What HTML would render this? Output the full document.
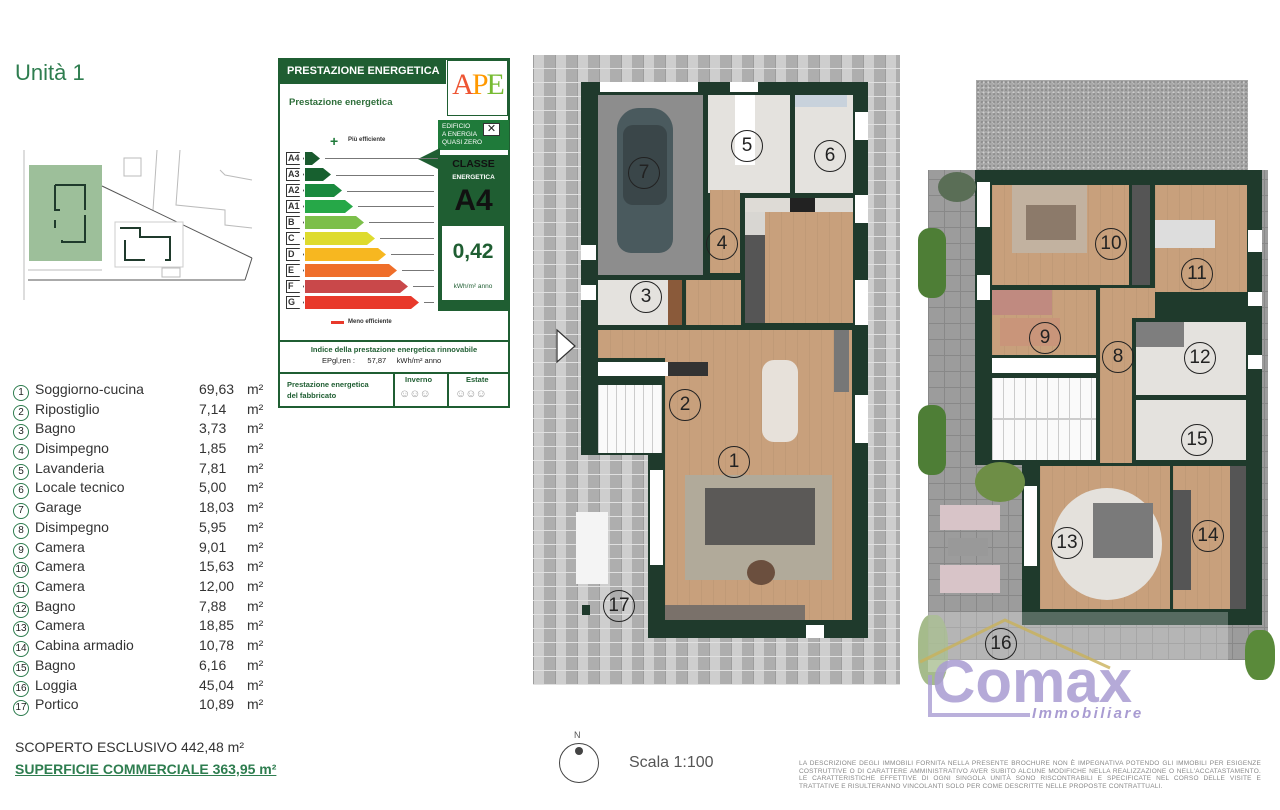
<!DOCTYPE html>
<html><head><meta charset="utf-8"><style>
*{margin:0;padding:0;box-sizing:border-box}
body{width:1280px;height:810px;background:#fff;position:relative;overflow:hidden;font-family:"Liberation Sans",sans-serif;color:#333}
.a{position:absolute}
.pave{background-color:#bdbdbd;background-image:repeating-linear-gradient(0deg,#e0e0e0 0 1px,transparent 1px 14px),repeating-linear-gradient(90deg,#9e9e9e 0 1px,transparent 1px 22px),repeating-linear-gradient(90deg,rgba(255,255,255,.25) 0 11px,rgba(0,0,0,.08) 11px 22px)}
.wall{background:#1f3a2c}
.wood{background:#c8a07c;background-image:repeating-linear-gradient(90deg,rgba(0,0,0,.04) 0 1px,transparent 1px 12px)}
.lt{background:#e4e2de}
.gy{background:#8d8d8d}
.num{position:absolute;width:32px;height:32px;border:1.5px solid #222;border-radius:50%;font-size:19px;text-align:center;line-height:29px;color:#222}
.win{background:#fff}
.li{position:absolute;left:13px;font-size:14px;color:#333;height:20px;line-height:20px}
.li i{display:inline-block;width:16px;height:16px;border:1.5px solid #2e7d4f;border-radius:50%;font-style:normal;font-size:10px;text-align:center;line-height:13px;margin-right:6px;vertical-align:-1px;color:#222}
.li b{font-weight:normal;position:absolute;left:186px;top:0}
.li u{text-decoration:none;position:absolute;left:234px;top:0;white-space:nowrap}
.bar{position:absolute;height:13px;clip-path:polygon(0 0,calc(100% - 8px) 0,100% 50%,calc(100% - 8px) 100%,0 100%)}
.bl{position:absolute;left:286px;width:18px;height:13px;border:1px solid #333;font-size:9px;font-weight:bold;line-height:11px;padding-left:1px;background:#fff;clip-path:polygon(0 0,75% 0,100% 50%,75% 100%,0 100%)}
.ln{position:absolute;height:1px;background:#777}
</style></head><body>

<div class="a" style="left:15px;top:60px;font-size:22px;color:#2e7d4f">Unità 1</div>

<svg class="a" style="left:0;top:140px" width="270" height="170">
<rect x="29" y="25" width="73" height="96" fill="#9dbf9a"/>
<g fill="none" stroke="#bbb" stroke-width="1"><line x1="24" y1="10" x2="24" y2="160"/><line x1="28" y1="130" x2="102" y2="130"/><rect x="124" y="18" width="17" height="18"/><polyline points="157,10 153,70"/><polyline points="180,10 176,65 225,70 225,85 252,88"/><polyline points="220,30 225,35 252,40"/><rect x="162" y="128" width="18" height="9"/></g>
<line x1="102" y1="46" x2="252" y2="118" stroke="#555"/><line x1="252" y1="118" x2="245" y2="140" stroke="#555"/><line x1="28" y1="140" x2="245" y2="140" stroke="#555"/>
<rect x="115" y="82" width="68" height="45" fill="#fff" stroke="#ccc"/>
<g fill="none" stroke="#1f3a2c" stroke-width="2"><polyline points="55,45 55,70 60,70"/><polyline points="55,80 55,88"/><polyline points="62,100 62,102 85,102 85,75"/><polyline points="55,45 85,45 85,70"/><polyline points="120,88 140,88 140,97 170,97 170,120 165,120"/><polyline points="125,100 125,120 145,120"/></g>
</svg>

<div class="li" style="top:379px"><i>1</i>Soggiorno-cucina<b>69,63</b><u>m²</u></div>
<div class="li" style="top:399px"><i>2</i>Ripostiglio<b>7,14</b><u>m²</u></div>
<div class="li" style="top:418px"><i>3</i>Bagno<b>3,73</b><u>m²</u></div>
<div class="li" style="top:438px"><i>4</i>Disimpegno<b>1,85</b><u>m²</u></div>
<div class="li" style="top:458px"><i>5</i>Lavanderia<b>7,81</b><u>m²</u></div>
<div class="li" style="top:477px"><i>6</i>Locale tecnico<b>5,00</b><u>m²</u></div>
<div class="li" style="top:497px"><i>7</i>Garage<b>18,03</b><u>m²</u></div>
<div class="li" style="top:517px"><i>8</i>Disimpegno<b>5,95</b><u>m²</u></div>
<div class="li" style="top:537px"><i>9</i>Camera<b>9,01</b><u>m²</u></div>
<div class="li" style="top:556px"><i>10</i>Camera<b>15,63</b><u>m²</u></div>
<div class="li" style="top:576px"><i>11</i>Camera<b>12,00</b><u>m²</u></div>
<div class="li" style="top:596px"><i>12</i>Bagno<b>7,88</b><u>m²</u></div>
<div class="li" style="top:615px"><i>13</i>Camera<b>18,85</b><u>m²</u></div>
<div class="li" style="top:635px"><i>14</i>Cabina armadio<b>10,78</b><u>m²</u></div>
<div class="li" style="top:655px"><i>15</i>Bagno<b>6,16</b><u>m²</u></div>
<div class="li" style="top:675px"><i>16</i>Loggia<b>45,04</b><u>m²</u></div>
<div class="li" style="top:694px"><i>17</i>Portico<b>10,89</b><u>m²</u></div>

<div class="a" style="left:15px;top:739px;font-size:14px;color:#333">SCOPERTO ESCLUSIVO 442,48 m²</div>
<div class="a" style="left:15px;top:761px;font-size:14px;font-weight:bold;color:#2e7d4f;text-decoration:underline">SUPERFICIE COMMERCIALE 363,95 m²</div>

<div class="a" style="left:278px;top:58px;width:232px;height:350px;border:2px solid #1f5e32;background:#fff"></div>
<div class="a" style="left:278px;top:58px;width:168px;height:26px;background:#1f5e32;color:#fff;font-weight:bold;font-size:11px;line-height:26px;padding-left:9px;white-space:nowrap">PRESTAZIONE ENERGETICA</div>
<div class="a" style="left:447px;top:60px;width:61px;height:56px;border:1px solid #1f5e32;background:#fff;text-align:center;font-family:'Liberation Serif',serif;font-size:30px;line-height:48px;letter-spacing:-2px"><span style="color:#e53">A</span><span style="color:#f90">P</span><span style="color:#7b3">E</span></div>
<div class="a" style="left:289px;top:97px;font-size:9.5px;font-weight:bold;color:#2e6e3a">Prestazione energetica</div>
<div class="a" style="left:330px;top:133px;font-size:14px;font-weight:bold;color:#1f7a3a">+</div>
<div class="a" style="left:348px;top:137px;font-size:6px;font-weight:bold;color:#333">Più efficiente</div>
<div class="a" style="left:438px;top:120px;width:71px;height:30px;background:#1f7a3a;color:#fff;font-size:6.5px;line-height:8px;padding:3px 0 0 4px">EDIFICIO<br>A ENERGIA<br>QUASI ZERO</div>
<div class="a" style="left:483px;top:123px;width:17px;height:13px;background:#fff;border:1px solid #333;font-size:11px;line-height:10px;text-align:center;color:#222">✕</div>
<div class="a" style="left:438px;top:155px;width:71px;height:156px;background:#1f5e32"></div>
<div class="a" style="left:418px;top:148px;width:22px;height:22px;background:#1f5e32;clip-path:polygon(100% 0,100% 100%,0 50%)"></div>
<div class="a" style="left:438px;top:158px;width:71px;text-align:center;font-size:10.5px;font-weight:bold;color:#111">CLASSE</div>
<div class="a" style="left:438px;top:174px;width:71px;text-align:center;font-size:6.5px;font-weight:bold;color:#fff">ENERGETICA</div>
<div class="a" style="left:438px;top:184px;width:71px;text-align:center;font-size:30px;font-weight:bold;color:#111">A4</div>
<div class="a" style="left:442px;top:226px;width:62px;height:74px;background:#fff"></div>
<div class="a" style="left:442px;top:240px;width:62px;text-align:center;font-size:21px;font-weight:bold;color:#1f5e32">0,42</div>
<div class="a" style="left:442px;top:283px;width:62px;text-align:center;font-size:6.5px;color:#1f5e32">kWh/m² anno</div>

<div class="bl" style="top:152px">A4</div><div class="bar" style="left:305px;top:152px;width:15px;background:#1a5a2e"></div><div class="ln" style="left:325px;top:158px;width:113px"></div>
<div class="bl" style="top:168px">A3</div><div class="bar" style="left:305px;top:168px;width:26px;background:#17602f"></div><div class="ln" style="left:336px;top:175px;width:98px"></div>
<div class="bl" style="top:184px">A2</div><div class="bar" style="left:305px;top:184px;width:37px;background:#1a8a3e"></div><div class="ln" style="left:347px;top:191px;width:87px"></div>
<div class="bl" style="top:200px">A1</div><div class="bar" style="left:305px;top:200px;width:48px;background:#26a848"></div><div class="ln" style="left:358px;top:206px;width:76px"></div>
<div class="bl" style="top:216px">B</div><div class="bar" style="left:305px;top:216px;width:59px;background:#7cbf4a"></div><div class="ln" style="left:369px;top:222px;width:65px"></div>
<div class="bl" style="top:232px">C</div><div class="bar" style="left:305px;top:232px;width:70px;background:#dedb2e"></div><div class="ln" style="left:380px;top:238px;width:54px"></div>
<div class="bl" style="top:248px">D</div><div class="bar" style="left:305px;top:248px;width:81px;background:#f7b720"></div><div class="ln" style="left:391px;top:254px;width:43px"></div>
<div class="bl" style="top:264px">E</div><div class="bar" style="left:305px;top:264px;width:92px;background:#ef6e2a"></div><div class="ln" style="left:402px;top:270px;width:32px"></div>
<div class="bl" style="top:280px">F</div><div class="bar" style="left:305px;top:280px;width:103px;background:#c9484a"></div><div class="ln" style="left:413px;top:286px;width:21px"></div>
<div class="bl" style="top:296px">G</div><div class="bar" style="left:305px;top:296px;width:114px;background:#e8392b"></div><div class="ln" style="left:424px;top:302px;width:10px"></div>
<div class="a" style="left:331px;top:321px;width:13px;height:3px;background:#e8392b"></div>
<div class="a" style="left:348px;top:319px;font-size:6px;font-weight:bold">Meno efficiente</div>
<div class="a" style="left:278px;top:340px;width:232px;height:2px;background:#1f5e32"></div>
<div class="a" style="left:278px;top:345px;width:232px;text-align:center;font-size:7.5px;font-weight:bold;color:#1f5e32">Indice della prestazione energetica rinnovabile</div>
<div class="a" style="left:322px;top:356px;font-size:7.5px;color:#222">EPgl,ren :&nbsp;&nbsp;&nbsp;&nbsp;&nbsp; 57,87 &nbsp;&nbsp;&nbsp; kWh/m² anno</div>
<div class="a" style="left:278px;top:372px;width:232px;height:2px;background:#1f5e32"></div>
<div class="a" style="left:393px;top:373px;width:2px;height:35px;background:#1f5e32"></div>
<div class="a" style="left:447px;top:373px;width:2px;height:35px;background:#1f5e32"></div>
<div class="a" style="left:287px;top:379px;font-size:7.5px;font-weight:bold;color:#1f5e32;line-height:11px">Prestazione energetica<br>del fabbricato</div>
<div class="a" style="left:405px;top:375px;font-size:7.5px;font-weight:bold;color:#1f5e32">Inverno</div>
<div class="a" style="left:466px;top:375px;font-size:7.5px;font-weight:bold;color:#1f5e32">Estate</div>
<div class="a" style="left:399px;top:388px;font-size:11px;color:#999;letter-spacing:-1px">☺☺☺</div>
<div class="a" style="left:455px;top:388px;font-size:11px;color:#999;letter-spacing:-1px">☺☺☺</div>

<!-- ground floor -->
<div class="a pave" style="left:533px;top:55px;width:367px;height:630px"></div>
<div class="a wall" style="left:581px;top:82px;width:287px;height:373px"></div>
<div class="a wall" style="left:648px;top:450px;width:220px;height:188px"></div>
<div class="a wall" style="left:582px;top:605px;width:8px;height:10px"></div>
<div class="a win" style="left:600px;top:82px;width:98px;height:10px"></div>
<div class="a win" style="left:730px;top:82px;width:28px;height:10px"></div>
<div class="a win" style="left:855px;top:112px;width:13px;height:28px"></div>
<div class="a win" style="left:855px;top:195px;width:13px;height:28px"></div>
<div class="a win" style="left:855px;top:280px;width:13px;height:45px"></div>
<div class="a win" style="left:855px;top:395px;width:13px;height:48px"></div>
<div class="a win" style="left:581px;top:245px;width:15px;height:15px"></div>
<div class="a win" style="left:581px;top:285px;width:15px;height:15px"></div>
<div class="a win" style="left:650px;top:470px;width:13px;height:95px"></div>
<div class="a win" style="left:806px;top:625px;width:18px;height:13px"></div>
<div class="a gy" style="left:598px;top:95px;width:105px;height:180px"></div>
<div class="a" style="left:617px;top:108px;width:56px;height:145px;background:#4a5a5e;border-radius:22px 22px 14px 14px"></div>
<div class="a" style="left:623px;top:125px;width:44px;height:80px;background:#3a4649;border-radius:10px"></div>
<div class="a lt" style="left:708px;top:95px;width:82px;height:98px"></div>
<div class="a" style="left:735px;top:95px;width:20px;height:70px;background:#fff"></div>
<div class="a lt" style="left:795px;top:95px;width:58px;height:98px"></div>
<div class="a" style="left:795px;top:95px;width:52px;height:12px;background:#c8d2dc"></div>
<div class="a wood" style="left:710px;top:190px;width:30px;height:83px"></div>
<div class="a wood" style="left:745px;top:198px;width:108px;height:125px"></div>
<div class="a" style="left:745px;top:198px;width:20px;height:125px;background:#d8d6d2"></div>
<div class="a" style="left:745px;top:198px;width:108px;height:14px;background:#dedbd6"></div>
<div class="a" style="left:790px;top:198px;width:25px;height:14px;background:#222"></div>
<div class="a" style="left:745px;top:235px;width:20px;height:88px;background:#555"></div>
<div class="a lt" style="left:598px;top:280px;width:80px;height:45px"></div>
<div class="a" style="left:668px;top:280px;width:14px;height:45px;background:#8a5a3a"></div>
<div class="a wood" style="left:686px;top:280px;width:55px;height:45px"></div>
<div class="a wood" style="left:598px;top:330px;width:252px;height:28px"></div>
<div class="a wood" style="left:665px;top:330px;width:187px;height:290px"></div>
<div class="a" style="left:598px;top:362px;width:72px;height:14px;background:#fff"></div>
<div class="a" style="left:668px;top:362px;width:40px;height:14px;background:#333"></div>
<div class="a" style="left:598px;top:385px;width:64px;height:68px;background:#fafafa;background-image:repeating-linear-gradient(90deg,#ccc 0 1px,transparent 1px 9px)"></div>
<div class="a" style="left:834px;top:330px;width:15px;height:62px;background:#777"></div>
<div class="a" style="left:762px;top:360px;width:36px;height:82px;background:#e7e1da;border-radius:12px"></div>
<div class="a" style="left:685px;top:475px;width:147px;height:105px;background:#b1aa9a"></div>
<div class="a" style="left:705px;top:488px;width:110px;height:57px;background:#5b5957"></div>
<div class="a" style="left:747px;top:560px;width:28px;height:25px;background:#6b4f3e;border-radius:50%"></div>
<div class="a" style="left:665px;top:605px;width:140px;height:15px;background:#7a716a"></div>
<div class="a" style="left:576px;top:512px;width:32px;height:72px;background:#f4f4f4"></div>
<svg class="a" style="left:555px;top:328px" width="24" height="36"><polygon points="2,2 20,18 2,34" fill="#fff" stroke="#333" stroke-width="1.2"/></svg>
<div class="num" style="left:731px;top:130px">5</div>
<div class="num" style="left:814px;top:140px">6</div>
<div class="num" style="left:628px;top:157px">7</div>
<div class="num" style="left:706px;top:228px">4</div>
<div class="num" style="left:630px;top:281px">3</div>
<div class="num" style="left:669px;top:389px">2</div>
<div class="num" style="left:718px;top:446px">1</div>
<div class="num" style="left:603px;top:590px">17</div>

<!-- upper floor -->
<div class="a" style="left:976px;top:80px;width:272px;height:92px;background:#a8a8a8;background-image:radial-gradient(#888 0.8px,transparent 1px),radial-gradient(#ccc 0.8px,transparent 1px);background-size:4px 4px,5px 5px"></div>
<div class="a" style="left:928px;top:170px;width:340px;height:490px;background:#9c9c9c;background-image:repeating-linear-gradient(0deg,#888 0 1px,transparent 1px 16px),repeating-linear-gradient(90deg,#888 0 1px,transparent 1px 16px)"></div>
<div class="a wall" style="left:975px;top:170px;width:287px;height:295px"></div>
<div class="a wall" style="left:1022px;top:460px;width:240px;height:165px"></div>
<div class="a wood" style="left:992px;top:185px;width:137px;height:100px"></div>
<div class="a" style="left:1012px;top:185px;width:75px;height:68px;background:#c2b2a0"></div>
<div class="a" style="left:1026px;top:205px;width:50px;height:35px;background:#8c7a6a"></div>
<div class="a" style="left:1132px;top:185px;width:18px;height:100px;background:#555"></div>
<div class="a wood" style="left:1155px;top:185px;width:92px;height:107px"></div>
<div class="a" style="left:1155px;top:220px;width:60px;height:28px;background:#ddd"></div>
<div class="a wood" style="left:992px;top:290px;width:104px;height:65px"></div>
<div class="a" style="left:992px;top:290px;width:60px;height:25px;background:#c08a80"></div>
<div class="a" style="left:1000px;top:318px;width:60px;height:28px;background:#c9957a"></div>
<div class="a" style="left:992px;top:358px;width:104px;height:15px;background:#fff"></div>
<div class="a" style="left:992px;top:378px;width:104px;height:82px;background:#fafafa;background-image:repeating-linear-gradient(90deg,#ccc 0 1px,transparent 1px 11px),linear-gradient(#fafafa 49%,#ccc 49% 51%,#fafafa 51%)"></div>
<div class="a wood" style="left:1100px;top:288px;width:32px;height:175px"></div>
<div class="a wood" style="left:1100px;top:288px;width:55px;height:30px"></div>
<div class="a lt" style="left:1136px;top:322px;width:110px;height:73px"></div>
<div class="a" style="left:1136px;top:322px;width:48px;height:25px;background:#7e7e7e"></div>
<div class="a lt" style="left:1136px;top:400px;width:110px;height:60px"></div>
<div class="a wood" style="left:1040px;top:466px;width:130px;height:143px"></div>
<div class="a" style="left:1052px;top:488px;width:110px;height:112px;background:#e4e1dc;border-radius:50%"></div>
<div class="a" style="left:1093px;top:503px;width:60px;height:55px;background:#7a7a7a"></div>
<div class="a wood" style="left:1173px;top:466px;width:73px;height:143px"></div>
<div class="a" style="left:1173px;top:490px;width:18px;height:100px;background:#555"></div>
<div class="a" style="left:1230px;top:466px;width:16px;height:143px;background:#555"></div>
<div class="a win" style="left:977px;top:182px;width:13px;height:45px"></div>
<div class="a win" style="left:977px;top:275px;width:13px;height:25px"></div>
<div class="a win" style="left:1248px;top:230px;width:14px;height:22px"></div>
<div class="a win" style="left:1248px;top:292px;width:14px;height:14px"></div>
<div class="a win" style="left:1248px;top:355px;width:14px;height:14px"></div>
<div class="a win" style="left:1024px;top:486px;width:13px;height:80px"></div>
<div class="a" style="left:918px;top:228px;width:28px;height:70px;background:#4e7e36;border-radius:12px"></div>
<div class="a" style="left:918px;top:405px;width:28px;height:70px;background:#4e7e36;border-radius:12px"></div>
<div class="a" style="left:938px;top:172px;width:38px;height:30px;background:#5a6e56;border-radius:50%"></div>
<div class="a" style="left:975px;top:462px;width:50px;height:40px;background:#6e8e46;border-radius:50%"></div>
<div class="a" style="left:940px;top:505px;width:60px;height:25px;background:#d8c4c8"></div>
<div class="a" style="left:948px;top:538px;width:40px;height:18px;background:#999"></div>
<div class="a" style="left:940px;top:565px;width:60px;height:28px;background:#d8c4c8"></div>
<div class="a" style="left:1245px;top:630px;width:30px;height:50px;background:#5a8a3a;border-radius:40%"></div>
<div class="a" style="left:918px;top:615px;width:30px;height:70px;background:#8eaa6e;border-radius:40%;opacity:.8"></div>
<div class="a" style="left:928px;top:612px;width:300px;height:60px;background:rgba(255,255,255,.25)"></div>
<div class="num" style="left:985px;top:628px">16</div>
<div class="num" style="left:1095px;top:228px">10</div>
<div class="num" style="left:1181px;top:258px">11</div>
<div class="num" style="left:1029px;top:322px">9</div>
<div class="num" style="left:1102px;top:341px">8</div>
<div class="num" style="left:1184px;top:342px">12</div>
<div class="num" style="left:1181px;top:424px">15</div>
<div class="num" style="left:1051px;top:527px">13</div>
<div class="num" style="left:1192px;top:520px">14</div>
<svg class="a" style="left:900px;top:600px" width="320" height="130">
<polyline points="20,62 105,20 210,68" fill="none" stroke="#c9b25a" stroke-width="3" opacity=".8"/>
<polyline points="30,75 30,115 130,115" fill="none" stroke="#a99cd2" stroke-width="4" opacity=".8"/>
<text x="32" y="102" font-family="Liberation Sans,sans-serif" font-weight="bold" font-size="60" fill="#a99cd2" opacity=".85">Comax</text>
<text x="132" y="118" font-family="Liberation Sans,sans-serif" font-style="italic" font-weight="bold" font-size="15" letter-spacing="2.5" fill="#a99cd2">Immobiliare</text>
</svg>

<div class="a" style="left:574px;top:730px;font-size:9px;color:#555">N</div>
<div class="a" style="left:559px;top:743px;width:40px;height:40px;border:1.3px solid #444;border-radius:50%"></div>
<div class="a" style="left:575px;top:747px;width:8px;height:8px;background:#444;border-radius:50%"></div>
<div class="a" style="left:629px;top:754px;font-size:16px;color:#555">Scala 1:100</div>

<div class="a" style="left:799px;top:760px;width:462px;font-size:6.5px;line-height:7.7px;color:#888;text-align:justify;letter-spacing:.2px">LA DESCRIZIONE DEGLI IMMOBILI FORNITA NELLA PRESENTE BROCHURE NON È IMPEGNATIVA POTENDO GLI IMMOBILI PER ESIGENZE COSTRUTTIVE O DI CARATTERE AMMINISTRATIVO AVER SUBITO ALCUNE MODIFICHE NELLA REALIZZAZIONE O NELL'ACCATASTAMENTO. LE CARATTERISTICHE EFFETTIVE DI OGNI SINGOLA UNITÀ SONO RISCONTRABILI E SPECIFICATE NEL CORSO DELLE VISITE E TRATTATIVE E RISULTERANNO VINCOLANTI SOLO PER COME DESCRITTE NELLE PROPOSTE CONTRATTUALI.</div>
</body></html>
